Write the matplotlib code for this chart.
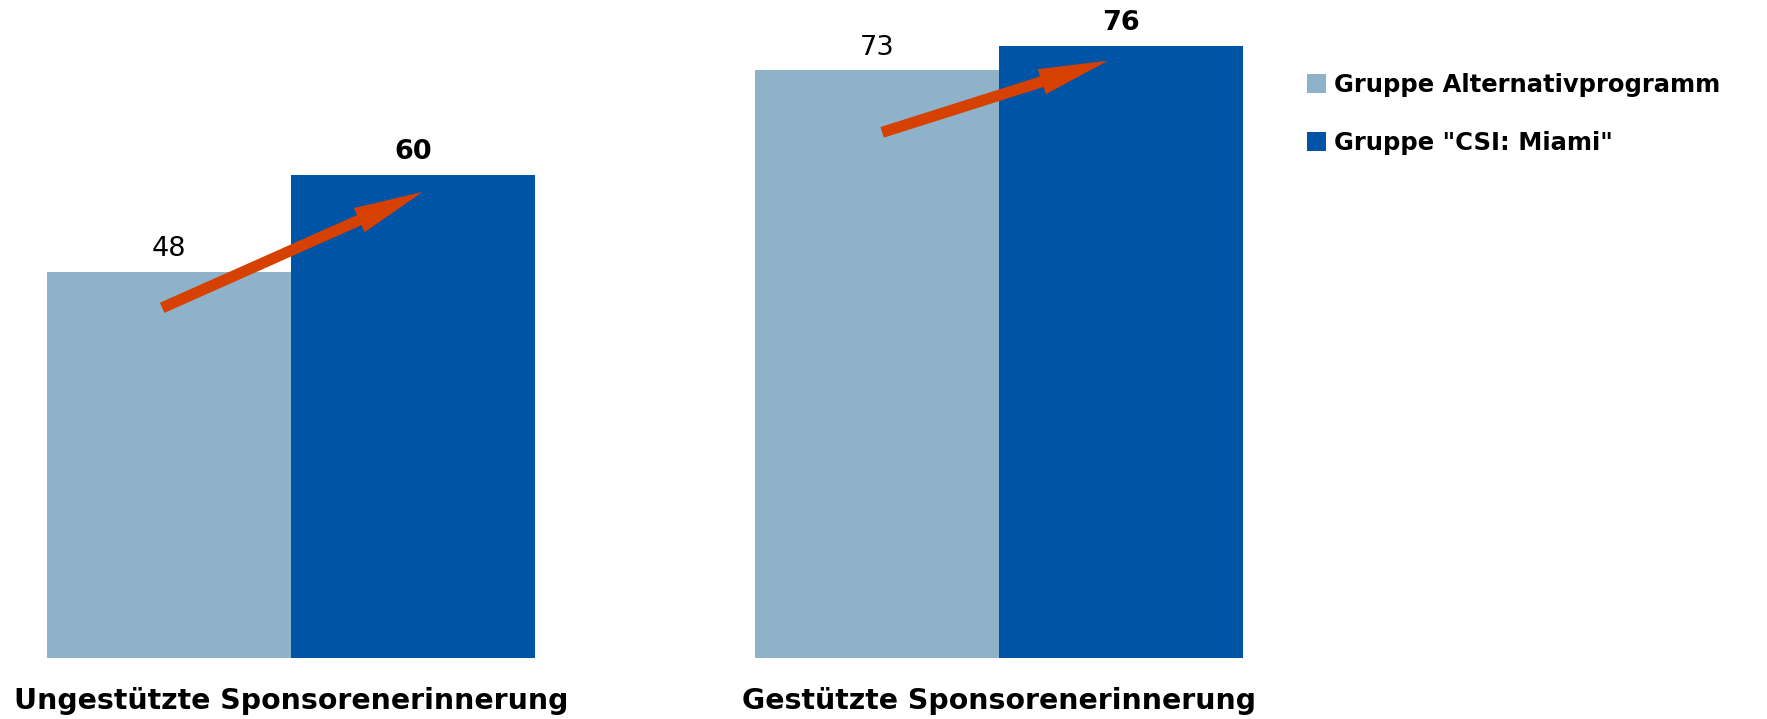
import matplotlib.pyplot as plt
import numpy as np

categories = ["Ungestützte Sponsorenerinnerung", "Gestützte Sponsorenerinnerung"]
series_names = ["Gruppe Alternativprogramm", 'Gruppe "CSI: Miami"']
alt_values = [48, 73]
csi_values = [60, 76]

light_blue = "#8EB2C9"
dark_blue = "#0054A6"
arrow_red = "#D64000"

fig = plt.figure(figsize=(17.67, 7.19), dpi=100)
ax = fig.add_axes([0, 61 / 719, 1290 / 1767, 658 / 719])

x = np.arange(len(categories))
w = 0.345

b1 = ax.bar(x - w / 2, alt_values, w, color=light_blue, label=series_names[0])
b2 = ax.bar(x + w / 2, csi_values, w, color=dark_blue, label=series_names[1])

ax.bar_label(b1, padding=7, fontsize=19.5)
ax.bar_label(b2, padding=7, fontsize=19.5, fontweight="bold")

# trend arrows from the light bar to the dark bar of each group
tail_dx = [-0.182, -0.165]
head_dx = [0.186, 0.154]
tail_drop = [4.5, 7.7]
head_drop = [2.1, 1.8]
for i in range(len(categories)):
    ax.annotate("", xy=(x[i] + head_dx[i], csi_values[i] - head_drop[i]),
                xytext=(x[i] + tail_dx[i], alt_values[i] - tail_drop[i]),
                arrowprops=dict(arrowstyle="simple,head_length=5,head_width=1.9,tail_width=0.8",
                                mutation_scale=10, color=arrow_red, lw=0,
                                shrinkA=0, shrinkB=0))

ax.set_xlim(-291 / 708, (1290 - 291) / 708)
ax.set_ylim(0, 658 / 8.05)
ax.set_xticks(x, categories, fontsize=20.4, fontweight="bold")
ax.tick_params(axis="x", length=0, pad=21)
ax.set_yticks([])
for s in ax.spines.values():
    s.set_visible(False)

fig.legend(handles=[b1, b2], loc="upper left", bbox_to_anchor=(1307 / 1767, 1 - 73 / 719),
           frameon=False, prop={"weight": "bold", "size": 17.5},
           handlelength=0.78, handleheight=0.78, handletextpad=0.33,
           labelspacing=1.4, borderpad=0, borderaxespad=0)

fig.savefig("out.png", dpi=100)
